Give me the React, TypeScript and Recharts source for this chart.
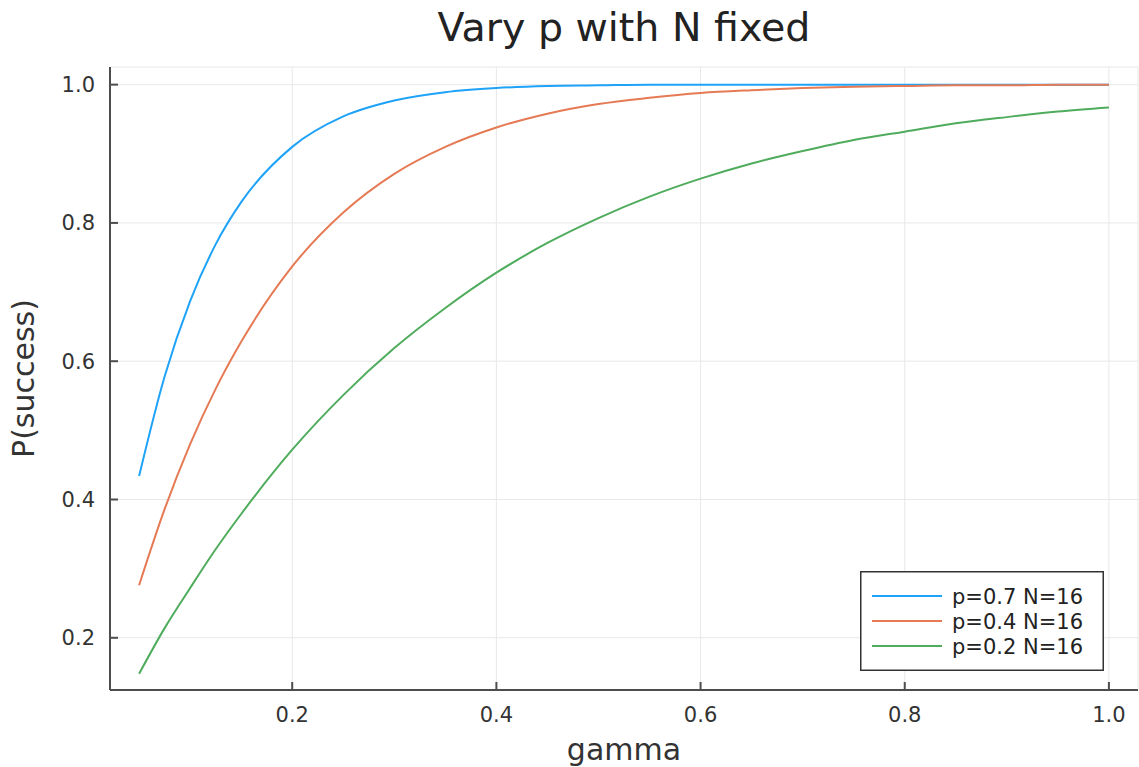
import React from 'react';
import { LineChart, Line, XAxis, YAxis, CartesianGrid, Legend } from 'recharts';

const gammaValues = [0.05, 0.075, 0.1, 0.125, 0.15, 0.2, 0.25, 0.3, 0.35, 0.4, 0.45, 0.5, 0.55, 0.6, 0.65, 0.7, 0.75, 0.8, 0.85, 0.9, 0.95, 1.0];
const p07 = [0.434, 0.578, 0.687, 0.769, 0.830, 0.910, 0.954, 0.977, 0.989, 0.995, 0.998, 0.999, 1.0, 1.0, 1.0, 1.0, 1.0, 1.0, 1.0, 1.0, 1.0, 1.0];
const p04 = [0.276, 0.386, 0.480, 0.560, 0.628, 0.737, 0.815, 0.871, 0.910, 0.938, 0.958, 0.972, 0.981, 0.988, 0.992, 0.995, 0.997, 0.998, 0.999, 0.999, 1.0, 1.0];
const p02 = [0.148, 0.214, 0.272, 0.328, 0.379, 0.472, 0.551, 0.619, 0.677, 0.728, 0.771, 0.807, 0.838, 0.864, 0.886, 0.904, 0.920, 0.932, 0.944, 0.953, 0.961, 0.967];

const seriesKeys = ['p07', 'p04', 'p02'];
const seriesNames = ['p=0.7 N=16', 'p=0.4 N=16', 'p=0.2 N=16'];
const seriesColors = ['#1fa3f8', '#e57a55', '#4fac5c'];
const xTicks = [0.2, 0.4, 0.6, 0.8, 1.0];
const yTicks = [0.2, 0.4, 0.6, 0.8, 1.0];

const titleText = 'Vary p with N fixed';
const xLabel = 'gamma';
const yLabel = 'P(success)';

const data = gammaValues.map((g, i) => ({ gamma: g, p07: p07[i], p04: p04[i], p02: p02[i] }));

const FONT = '"DejaVu Sans", sans-serif';
const AXIS = '#4d4d4d';
const TEXT = '#333333';

const renderLegend = (props: any) => {
  const payload = [...(props.payload || [])].sort(
    (a: any, b: any) => seriesNames.indexOf(a.value) - seriesNames.indexOf(b.value)
  );
  return (
    <svg width={244} height={100} style={{ display: 'block' }}>
      <rect x={0.75} y={0.75} width={242.5} height={98.5} fill="#ffffff" stroke="#333333" strokeWidth={1.5} />
      {payload.map((entry: any, i: number) => (
        <g key={i}>
          <line x1={12} x2={82} y1={25 + i * 25} y2={25 + i * 25} stroke={entry.color} strokeWidth={2} />
          <text x={92} y={25 + i * 25} dy="0.36em" fontSize={21} fontFamily={FONT} fill="#222">{entry.value}</text>
        </g>
      ))}
    </svg>
  );
};

export default function App() {
  return (
    <div style={{ position: 'absolute', left: 0, top: 0, width: 1139, height: 767, background: '#fff' }}>
      <LineChart width={1139} height={767} data={data} margin={{ top: 67, right: 1, bottom: 0, left: 0 }} style={{ fontFamily: FONT }}>
        <CartesianGrid stroke="#e8e8e8" strokeWidth={1} />
        <XAxis
          dataKey="gamma"
          type="number"
          domain={[0.0215, 1.0285]}
          allowDataOverflow
          ticks={xTicks}
          tickFormatter={(v: number) => v.toFixed(1)}
          height={77}
          axisLine={{ stroke: AXIS, strokeWidth: 2 }}
          tickLine={{ stroke: AXIS, strokeWidth: 2 }}
          tickSize={-8}
          tickMargin={25}
          tick={{ fill: TEXT, fontSize: 21, fontFamily: FONT }}
          label={{
            content: (p: any) => {
              const vb = p.viewBox || {};
              return (
                <text x={vb.x + vb.width / 2} y={760} textAnchor="middle" fontSize={30} fontFamily={FONT} fill={TEXT}>{xLabel}</text>
              );
            },
          }}
        />
        <YAxis
          type="number"
          domain={[0.1245, 1.0255]}
          allowDataOverflow
          ticks={yTicks}
          tickFormatter={(v: number) => v.toFixed(1)}
          width={110}
          axisLine={{ stroke: AXIS, strokeWidth: 2 }}
          tickLine={{ stroke: AXIS, strokeWidth: 2 }}
          tickSize={-8}
          tickMargin={23}
          tick={{ fill: TEXT, fontSize: 21, fontFamily: FONT }}
          label={{
            content: (p: any) => {
              const vb = p.viewBox || {};
              const cy = vb.y + vb.height / 2;
              return (
                <text x={34} y={cy} transform={`rotate(-90, 34, ${cy})`} textAnchor="middle" fontSize={30} fontFamily={FONT} fill={TEXT}>{yLabel}</text>
              );
            },
          }}
        />
        {seriesKeys.map((k, i) => (
          <Line
            key={k}
            type="monotone"
            dataKey={k}
            name={seriesNames[i]}
            stroke={seriesColors[i]}
            strokeWidth={2}
            dot={false}
            activeDot={false}
            isAnimationActive={false}
          />
        ))}
        <Legend
          layout="vertical"
          align="center"
          verticalAlign="middle"
          content={renderLegend}
          wrapperStyle={{ position: 'absolute', left: 860, top: 571, width: 244, height: 100 }}
        />
        <text x={624} y={41} textAnchor="middle" fontSize={39.5} fontFamily={FONT} fill="#222">{titleText}</text>
      </LineChart>
    </div>
  );
}
